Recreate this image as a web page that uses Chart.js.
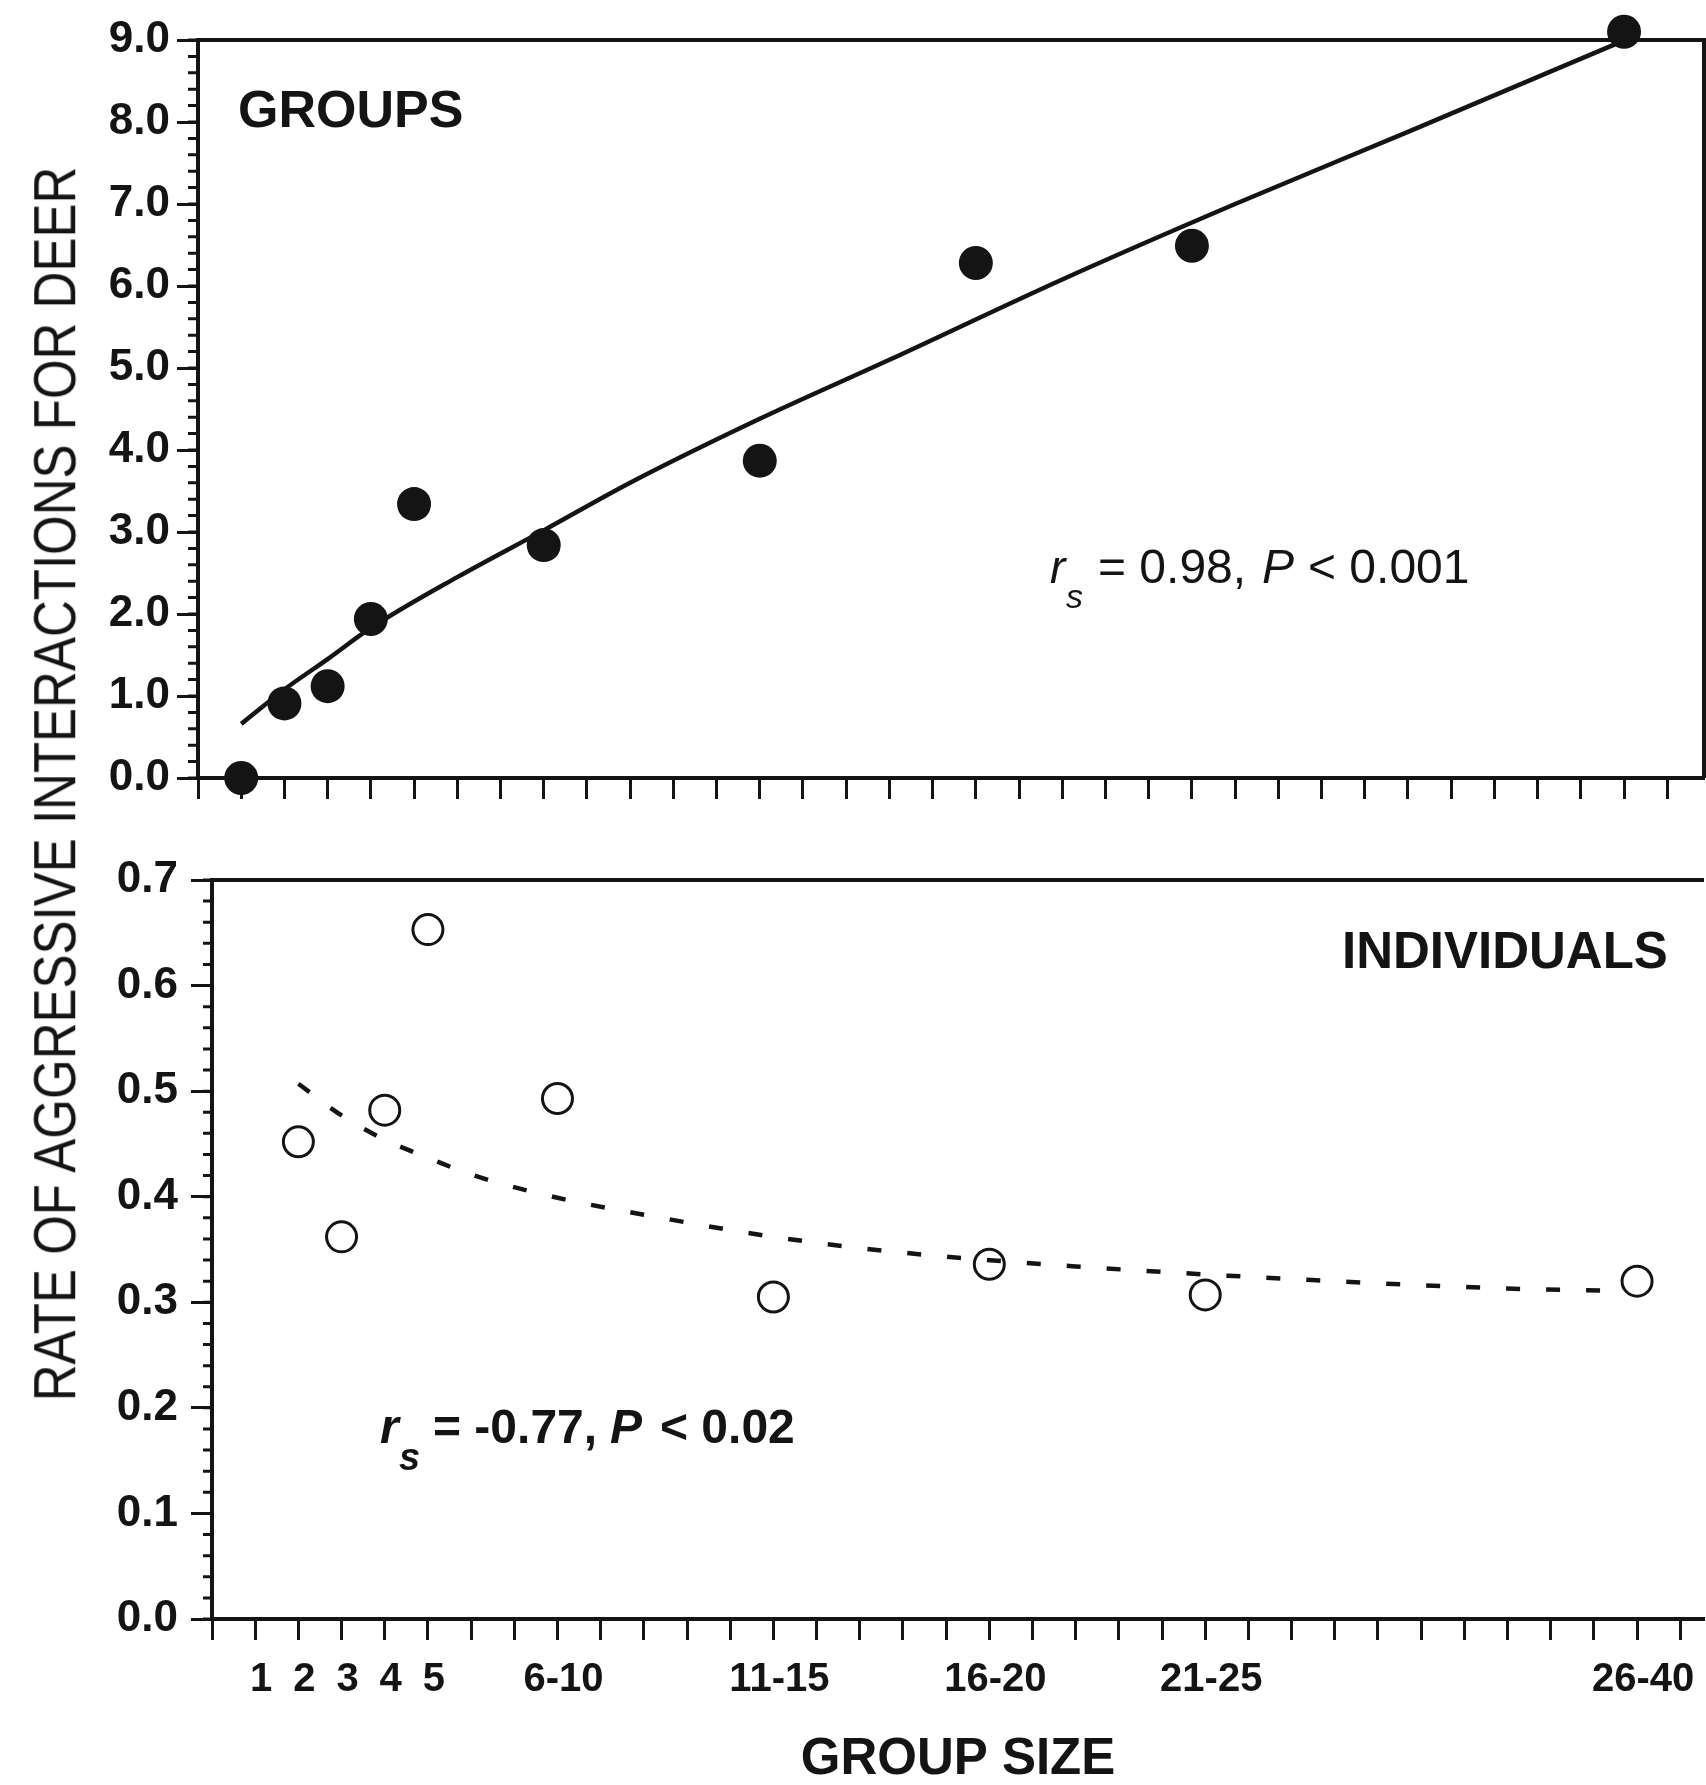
<!DOCTYPE html>
<html>
<head>
<meta charset="utf-8">
<script src="https://cdn.jsdelivr.net/npm/chart.js@4.4.1/dist/chart.umd.min.js"></script>
<style>
  html, body { margin: 0; padding: 0; background: #fff; }
  #wrap { position: relative; width: 1706px; height: 1785px; overflow: hidden; }
  #top { position: absolute; left: 0; top: 0; }
  #bottom { position: absolute; left: 0; top: 840px; }
  #ytitle {
    position: absolute; left: 55px; top: 784px;
    transform: translate(-50%, -50%) rotate(-90deg) scaleY(1.15);
    font: 51px "Liberation Sans", Arial, sans-serif;
    color: #141414; white-space: nowrap; line-height: 1;
  }
</style>
</head>
<body>
<div id="wrap">
  <canvas id="top" width="1706" height="840"></canvas>
  <canvas id="bottom" width="1706" height="945"></canvas>
  <div id="ytitle">RATE OF AGGRESSIVE INTERACTIONS FOR DEER</div>
</div>
<script>
// group size classes are placed at their midpoints on a 0-35 axis
const tickValues = [1, 2, 3, 4, 5, 8, 13, 18, 23, 33];
const tickText = ['1', '2', '3', '4', '5', '6-10', '11-15', '16-20', '21-25', '26-40'];

// top panel: groups
const groupSize = [1, 2, 3, 4, 5, 8, 13, 18, 23, 33];
const groupRate = [0.0, 0.91, 1.12, 1.94, 3.34, 2.84, 3.87, 6.28, 6.49, 9.1];

// bottom panel: individuals
const indivSize = [2, 3, 4, 5, 8, 13, 18, 23, 33];
const indivRate = [0.452, 0.362, 0.482, 0.653, 0.493, 0.305, 0.336, 0.307, 0.320];

// fitted curves
const groupFitX = [1, 2, 3, 4, 6, 8, 10, 13, 16, 20, 24, 28, 32.8];
const groupFitY = [0.66, 1.08, 1.45, 1.83, 2.45, 3.02, 3.60, 4.38, 5.10, 6.08, 7.00, 7.88, 8.95];
const indivFitX = [2, 3, 4, 5, 6, 8, 10, 13, 16, 20, 25, 30, 32.2];
const indivFitY = [0.507, 0.477, 0.454, 0.437, 0.421, 0.399, 0.383, 0.362, 0.347, 0.334, 0.322, 0.313, 0.311];

const INK = '#141414';
const FONT = '"Liberation Sans", Arial, sans-serif';
Chart.defaults.font.family = FONT;
Chart.defaults.color = INK;

const pts = (xs, ys) => xs.map((x, i) => ({ x: x, y: ys[i] }));

// minor y ticks, top/right frame and the text notes
const extras = {
  id: 'extras',
  afterDraw(chart, args, opts) {
    const ctx = chart.ctx;
    const a = chart.chartArea;
    const y = chart.scales.y;
    ctx.save();
    ctx.strokeStyle = INK;
    ctx.lineWidth = 3;
    ctx.beginPath();
    const n = Math.round((y.max - y.min) / opts.minorStep);
    for (let i = 0; i <= n; i++) {
      const py = y.getPixelForValue(y.min + i * opts.minorStep);
      ctx.moveTo(a.left, py);
      ctx.lineTo(a.left - opts.minorLen, py);
    }
    ctx.stroke();

    ctx.lineWidth = 4;
    ctx.beginPath();
    ctx.moveTo(a.left, a.top);
    ctx.lineTo(a.right, a.top);
    if (opts.rightEdge) ctx.lineTo(a.right, a.bottom);
    ctx.stroke();

    ctx.fillStyle = INK;
    ctx.textBaseline = 'alphabetic';
    ctx.textAlign = 'left';
    opts.notes.forEach(t => {
      ctx.font = t.font + ' ' + FONT;
      ctx.fillText(t.text, t.x, t.y);
    });
    ctx.restore();
  }
};

function xAxis(max, withLabels) {
  return {
    type: 'linear', min: 0, max: max,
    ticks: {
      stepSize: 1, includeBounds: false, autoSkip: false, maxRotation: 0, maxTicksLimit: 100,
      padding: 16, labelOffset: 6, color: INK,
      font: { size: 40, weight: 'bold' },
      callback: v => {
        if (!withLabels) return '';
        const i = tickValues.indexOf(v);
        return i >= 0 ? tickText[i] : '';
      }
    },
    grid: { drawOnChartArea: false, tickLength: 21, tickWidth: 3, tickColor: INK },
    border: { color: INK, width: 4 }
  };
}

function yAxis(max, step, width, pad) {
  return {
    min: 0, max: max,
    ticks: {
      stepSize: step, padding: pad, color: INK,
      font: { size: 44, weight: 'bold' },
      callback: v => v.toFixed(1)
    },
    grid: { drawOnChartArea: false, tickLength: 21, tickWidth: 3, tickColor: INK },
    border: { color: INK, width: 4 },
    afterFit: s => { s.width = width; }
  };
}

const common = {
  responsive: false,
  animation: false,
  plugins: { legend: { display: false }, tooltip: { enabled: false } }
};

// top: groups
const topX = xAxis(34.85, false);
topX.afterFit = s => { s.height = 62; };
new Chart(document.getElementById('top'), {
  type: 'scatter',
  data: {
    datasets: [
      {
        data: pts(groupSize, groupRate), order: 0, clip: false,
        pointRadius: 17, pointBackgroundColor: INK, pointBorderWidth: 0
      },
      {
        data: pts(groupFitX, groupFitY), order: 1, showLine: true, clip: false,
        pointRadius: 0, borderColor: INK, borderWidth: 4.5, cubicInterpolationMode: 'monotone'
      }
    ]
  },
  options: Object.assign({}, common, {
    layout: { autoPadding: false, padding: { left: 0, right: 2, top: 40, bottom: 0 } },
    scales: { x: topX, y: yAxis(9, 1, 198, 7) },
    plugins: Object.assign({}, common.plugins, {
      extras: {
        minorStep: 0.2, minorLen: 10, rightEdge: true,
        notes: [
          { text: 'GROUPS', font: 'bold 52px', x: 238, y: 127 },
          { text: 'r', font: 'italic 46px', x: 1050, y: 583 },
          { text: 's', font: 'italic 34px', x: 1066, y: 608 },
          { text: '= 0.98,', font: '48px', x: 1098, y: 583 },
          { text: 'P', font: 'italic 48px', x: 1262, y: 583 },
          { text: '< 0.001', font: '48px', x: 1308, y: 583 }
        ]
      }
    })
  }),
  plugins: [extras]
});

// bottom: individuals
const botX = xAxis(34.55, true);
botX.title = { display: true, text: 'GROUP SIZE', color: INK, padding: 0, font: { size: 51, weight: 'bold', lineHeight: 1 } };
botX.afterFit = s => { s.height = 166; };
new Chart(document.getElementById('bottom'), {
  type: 'scatter',
  data: {
    datasets: [
      {
        data: pts(indivSize, indivRate), order: 0, clip: false,
        pointRadius: 15, pointBackgroundColor: 'rgba(0,0,0,0)', pointBorderColor: INK, pointBorderWidth: 3
      },
      {
        data: pts(indivFitX, indivFitY), order: 1, showLine: true, clip: false,
        pointRadius: 0, borderColor: INK, borderWidth: 4.5, borderDash: [14, 26],
        cubicInterpolationMode: 'monotone'
      }
    ]
  },
  options: Object.assign({}, common, {
    layout: { autoPadding: false, padding: { left: 0, right: 2, top: 40, bottom: 0 } },
    scales: { x: botX, y: yAxis(0.7, 0.1, 212, 13) },
    plugins: Object.assign({}, common.plugins, {
      extras: {
        minorStep: 0.02, minorLen: 9, rightEdge: false,
        notes: [
          { text: 'INDIVIDUALS', font: 'bold 51px', x: 1342, y: 128 },
          { text: 'r', font: 'bold italic 48px', x: 380, y: 603 },
          { text: 's', font: 'bold italic 38px', x: 399, y: 630 },
          { text: '= -0.77,', font: 'bold 48px', x: 433, y: 603 },
          { text: 'P', font: 'bold italic 48px', x: 610, y: 603 },
          { text: '< 0.02', font: 'bold 48px', x: 660, y: 603 }
        ]
      }
    })
  }),
  plugins: [extras]
});
</script>
</body>
</html>
